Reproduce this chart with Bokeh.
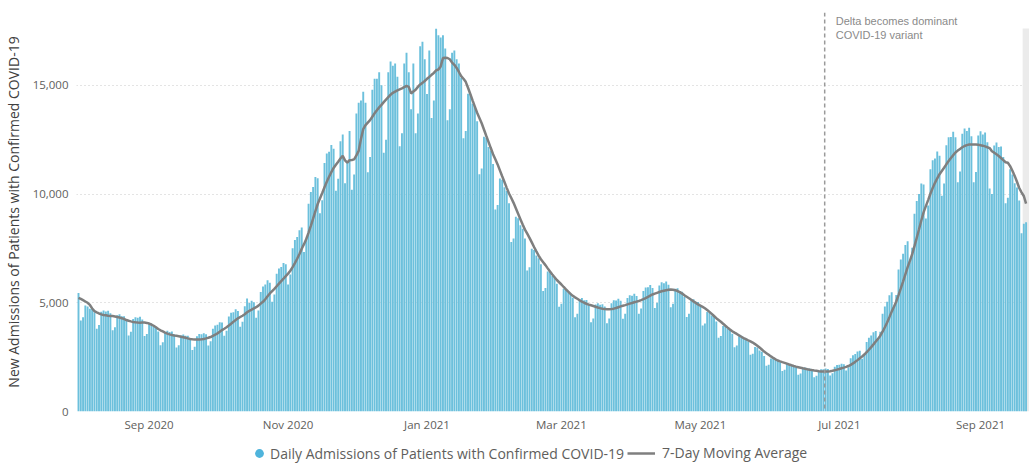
import pandas as pd
from bokeh.plotting import figure
from bokeh.layouts import column
from bokeh.models import (Range1d, FixedTicker, NumeralTickFormatter, Span, Label,
                          BoxAnnotation, Legend, LegendItem, ColumnDataSource)
from bokeh.embed import file_html
from bokeh.resources import INLINE

# ---------------- data ----------------
start_date = "2020-08-01"

daily_admissions = [
    5450, 4190, 4340, 4880, 4830, 4720, 4770,
    4570, 3810, 3980, 4590, 4650, 4600, 4630,
    4520, 3740, 3870, 4430, 4470, 4380, 4380,
    4180, 3500, 3670, 4250, 4340, 4310, 4360,
    4230, 3470, 3560, 4040, 4030, 3920, 3870,
    3680, 3050, 3190, 3660, 3710, 3660, 3680,
    3550, 2940, 3050, 3500, 3540, 3480, 3480,
    3370, 2830, 2980, 3460, 3560, 3550, 3600,
    3550, 3030, 3230, 3810, 3950, 3990, 4100,
    4090, 3480, 3710, 4370, 4540, 4570, 4700,
    4620, 3900, 4130, 4840, 5200, 4990, 5090,
    5020, 4310, 4640, 5500, 5750, 5840, 6040,
    5920, 5050, 5380, 6340, 6580, 6650, 6830,
    6770, 5840, 6300, 7510, 7890, 8030, 8340,
    8460, 7340, 7970, 9560, 10090, 10330, 10780,
    10730, 9120, 9720, 11430, 11860, 11950, 12260,
    12080, 10150, 10700, 12430, 12740, 10500, 11500,
    12900, 10200, 10900, 13700, 14200, 14300, 14700,
    14200, 11000, 11700, 14800, 15300, 15300, 15600,
    15000, 11900, 12500, 15600, 16100, 15900, 16000,
    15400, 12200, 12800, 16000, 16500, 15600, 13900,
    16000, 12800, 13700, 16800, 17000, 16200, 14600,
    16600, 13500, 14300, 17600, 17300, 17200, 17300,
    16700, 13400, 13900, 16500, 16600, 16200, 16000,
    15350, 12570, 12900, 14610, 14600, 14150, 13990,
    13350, 10910, 11170, 12630, 12580, 12170, 12000,
    11380, 9290, 9500, 10720, 10660, 10310, 10140,
    9580, 7800, 7960, 8960, 8890, 8570, 8410,
    7960, 6490, 6630, 7480, 7430, 7170, 7050,
    6770, 5540, 5680, 6440, 6420, 6230, 6150,
    5870, 4820, 4960, 5640, 5650, 5490, 5450,
    5230, 4330, 4500, 5160, 5220, 5120, 5130,
    4950, 4110, 4280, 4920, 4980, 4910, 4930,
    4830, 4060, 4280, 4980, 5120, 5110, 5190,
    5090, 4270, 4490, 5220, 5350, 5320, 5410,
    5310, 4490, 4740, 5540, 5700, 5710, 5820,
    5680, 4760, 5000, 5800, 5940, 5900, 5980,
    5830, 4800, 4960, 5650, 5670, 5540, 5510,
    5270, 4350, 4490, 5130, 5160, 5050, 5040,
    4840, 3960, 4050, 4580, 4560, 4410, 4350,
    4140, 3390, 3470, 3930, 3920, 3800, 3750,
    3580, 2950, 3040, 3460, 3480, 3390, 3370,
    3220, 2610, 2660, 2970, 2940, 2810, 2750,
    2550, 2100, 2150, 2440, 2450, 2370, 2350,
    2260, 1860, 1920, 2180, 2180, 2130, 2120,
    2040, 1690, 1750, 2010, 2020, 1980, 1980,
    1910, 1570, 1640, 1880, 1940, 1940, 1980,
    1950, 1650, 1760, 2060, 2140, 2150, 2200,
    2170, 1880, 2040, 2450, 2590, 2650, 2760,
    2790, 2430, 2660, 3200, 3390, 3490, 3650,
    3700, 3290, 3670, 4490, 4830, 5050, 5350,
    5480, 4850, 5360, 6530, 6990, 7260, 7660,
    7830, 6860, 7530, 9100, 9680, 10000, 10490,
    10440, 8880, 9470, 11140, 11550, 11640, 11960,
    11760, 9920, 10490, 12250, 12610, 12620, 12870,
    12610, 10540, 11040, 12770, 13020, 12900, 13050,
    12660, 10540, 11010, 12690, 12890, 12740, 12830,
    12380, 10260, 10000, 12230, 12370, 12170, 12190,
    11700, 9580, 9830, 11140, 10900, 10500, 10300,
    9700, 8200, 8640, 8700,
]
# 7-day average as drawn for the first six days (window not yet full)
avg_first_days = [5230, 5180, 5120, 5060, 5000, 4900]

tick_dates = ["2020-09-01", "2020-11-01", "2021-01-01", "2021-03-01",
              "2021-05-01", "2021-07-01", "2021-09-01"]
tick_labels = ["Sep 2020", "Nov 2020", "Jan 2021", "Mar 2021",
               "May 2021", "Jul 2021", "Sep 2021"]
y_ticks = [0, 5000, 10000, 15000]

delta_date = "2021-06-24 14:00"
delta_text = "Delta becomes dominant\nCOVID-19 variant"
shaded_from = "2021-09-19 12:00"

bar_label = "Daily Admissions of Patients with Confirmed COVID-19"
avg_label = "7-Day Moving Average"
y_title = "New Admissions of Patients with Confirmed COVID-19"

# ---------------- derived ----------------
t0 = pd.Timestamp(start_date)


def day_of(s):
    return (pd.Timestamp(s) - t0) / pd.Timedelta(days=1)


days = list(range(len(daily_admissions)))
moving_avg = pd.Series(daily_admissions, dtype=float).rolling(7).mean().tolist()
moving_avg[:len(avg_first_days)] = avg_first_days
src = ColumnDataSource(dict(day=days, adm=daily_admissions, ma=moving_avg))

FONT = "Open Sans"
TXT = "#605e5c"
BAR = "#6cc0dc"
LINE = "#7f7f7f"

p = figure(width=1029, height=440, output_backend="svg", toolbar_location=None,
           x_range=Range1d(-0.88, len(days) + 0.5), y_range=Range1d(0, 18350),
           min_border_left=75, min_border_right=0, min_border_top=12, min_border_bottom=29,
           background_fill_color="white", border_fill_color="white")
p.outline_line_color = None

p.add_layout(BoxAnnotation(left=day_of(shaded_from), bottom=0, top=17610,
                           fill_color="#ebebeb", fill_alpha=1, line_color=None,
                           level="underlay"))

p.vbar(x="day", top="adm", width=0.84, source=src, fill_color=BAR, line_color=None)
p.line(x="day", y="ma", source=src, line_color=LINE, line_width=2.5)

p.add_layout(Span(location=day_of(delta_date), dimension="height",
                  line_color="#9a9a9a", line_dash="4 3", line_width=1.5))
p.add_layout(Label(x=day_of(delta_date), y=18230, x_offset=11, text=delta_text,
                   text_font="Liberation Sans", text_font_size="11px",
                   text_color="#8a8a8a", text_baseline="top", text_line_height=1.2))

# axes
xt = [int(day_of(d)) for d in tick_dates]
p.xaxis.ticker = FixedTicker(ticks=xt)
p.xaxis.major_label_overrides = {t: l for t, l in zip(xt, tick_labels)}
p.yaxis.ticker = FixedTicker(ticks=y_ticks)
p.yaxis.formatter = NumeralTickFormatter(format="0,0")
for ax in (p.xaxis[0], p.yaxis[0]):
    ax.axis_line_color = None
    ax.major_tick_line_color = None
    ax.minor_tick_line_color = None
    ax.major_tick_out = 0
    ax.major_tick_in = 0
    ax.minor_tick_out = 0
    ax.major_label_text_font = FONT
    ax.major_label_text_color = TXT
p.xaxis.major_label_text_font_size = "11.5px"
p.xaxis.major_label_standoff = 5
p.yaxis.major_label_text_font_size = "11.5px"
p.yaxis.major_label_standoff = 8
p.yaxis.axis_label = y_title
p.yaxis.axis_label_text_font = FONT
p.yaxis.axis_label_text_font_style = "normal"
p.yaxis.axis_label_text_font_size = "14px"
p.yaxis.axis_label_text_color = "#404040"
p.yaxis.axis_label_standoff = 7

p.xgrid.visible = False
p.ygrid.ticker = FixedTicker(ticks=y_ticks)
p.ygrid.grid_line_color = "#c8c8c8"
p.ygrid.grid_line_dash = "1 3"

# ---------------- legend strip ----------------
lg = figure(width=1029, height=24, output_backend="svg", toolbar_location=None,
            x_range=Range1d(0, 1), y_range=Range1d(0, 1),
            min_border=0, background_fill_color="white", border_fill_color="white")
lg.outline_line_color = None
lg.axis.visible = False
lg.grid.visible = False
dot = lg.scatter(x=[-5], y=[-5], marker="circle", size=10, fill_color="#4fb4dc", line_color=None)
seg = lg.line(x=[-5, -4], y=[-5, -5], line_color=LINE, line_width=2.5)

common = dict(orientation="horizontal", border_line_color=None, background_fill_alpha=0,
              label_text_font=FONT, label_text_font_size="14px", label_text_color=TXT,
              padding=0, margin=0, spacing=0)
lg.add_layout(Legend(items=[LegendItem(label=bar_label, renderers=[dot])],
                     location=(172, 0), glyph_width=22, glyph_height=22,
                     label_standoff=0, **common))
lg.add_layout(Legend(items=[LegendItem(label=avg_label, renderers=[seg])],
                     location=(551, 2), glyph_width=28, glyph_height=12,
                     label_standoff=7, **common))

open("out.html", "w").write(file_html(column(p, lg, spacing=0), INLINE))
